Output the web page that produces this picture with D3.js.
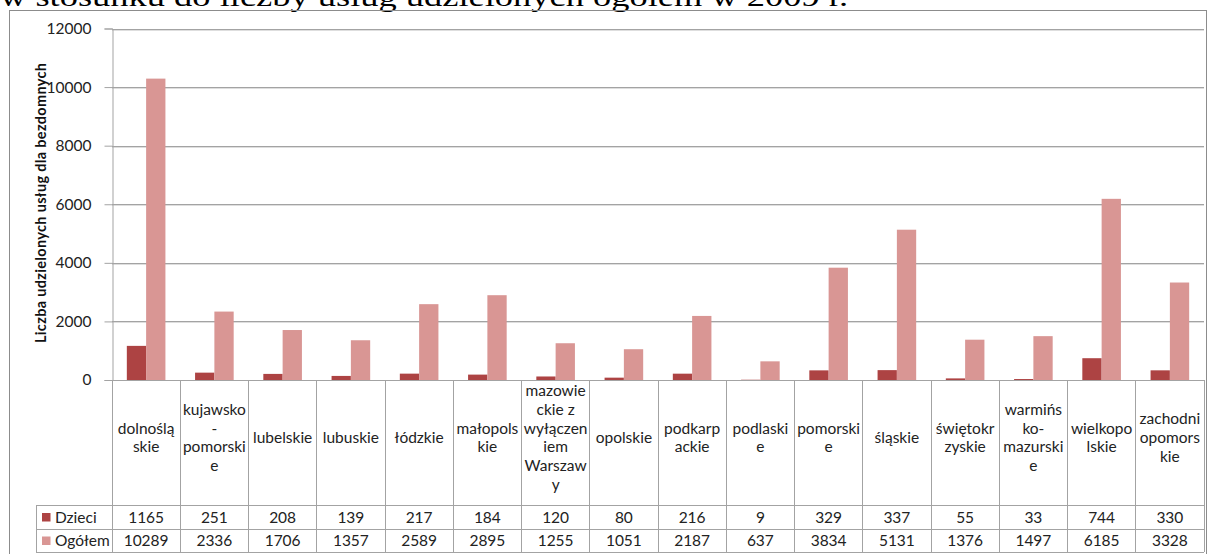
<!DOCTYPE html>
<html>
<head>
<meta charset="utf-8">
<script src="https://cdn.jsdelivr.net/npm/d3@7"></script>
<style>
  body { margin: 0; background: #fff; }
  svg { display: block; }
</style>
</head>
<body>
<svg width="1209" height="554"></svg>
<script>
// data
const categories = ['dolnośląskie', 'kujawsko-pomorskie', 'lubelskie', 'lubuskie', 'łódzkie',
  'małopolskie', 'mazowieckie z wyłączeniem Warszawy', 'opolskie', 'podkarpackie', 'podlaskie',
  'pomorskie', 'śląskie', 'świętokrzyskie', 'warmińsko-mazurskie', 'wielkopolskie', 'zachodniopomorskie'];
// wrapped the way Excel wrapped them in the table
const labelLines = [['dolnoślą', 'skie'], ['kujawsko', '-', 'pomorski', 'e'], ['lubelskie'], ['lubuskie'],
  ['łódzkie'], ['małopols', 'kie'], ['mazowie', 'ckie z', 'wyłączen', 'iem', 'Warszaw', 'y'], ['opolskie'],
  ['podkarp', 'ackie'], ['podlaski', 'e'], ['pomorski', 'e'], ['śląskie'], ['świętokr', 'zyskie'],
  ['warmińs', 'ko-', 'mazurski', 'e'], ['wielkopo', 'lskie'], ['zachodni', 'opomors', 'kie']];
const seriesNames = ['Dzieci', 'Ogółem'];
const dzieci = [1165, 251, 208, 139, 217, 184, 120, 80, 216, 9, 329, 337, 55, 33, 744, 330];
const ogolem = [10289, 2336, 1706, 1357, 2589, 2895, 1255, 1051, 2187, 637, 3834, 5131, 1376, 1497, 6185, 3328];
const yTicks = [0, 2000, 4000, 6000, 8000, 10000, 12000];
const yTitle = 'Liczba udzielonych usług dla bezdomnych';
const heading = 'w stosunku do liczby usług udzielonych ogółem w 2009 r.';

const colors = { Dzieci: '#ad4343', 'Ogółem': '#d99694' };
const font = 'Lato, "Noto Sans", sans-serif';
const fs = 15.5;
const lineCol = '#a3a3a3';

const svg = d3.select('svg');
const plotLeft = 112, plotRight = 1204, plotTop = 28.5, zero = 380;
const labelBottom = 505, row1 = 529, row2 = 552, legendLeft = 36;

// cut-off heading above the chart frame (the reference crops it the same way)
svg.append('text')
  .attr('x', 0).attr('y', 6)
  .attr('font-family', '"Liberation Serif", serif')
  .attr('font-size', 27)
  .attr('textLength', 848)
  .attr('lengthAdjust', 'spacingAndGlyphs')
  .text(heading);

// frame
svg.append('rect')
  .attr('x', 9.5).attr('y', 10.5)
  .attr('width', 1197).attr('height', 560)
  .attr('fill', 'none').attr('stroke', '#8c8c8c');

const x = d3.scaleBand().domain(categories).range([plotLeft, plotRight]);
const x1 = d3.scaleBand().domain(seriesNames)
  .range([(x.bandwidth() - 38.6) / 2, (x.bandwidth() + 38.6) / 2]);
const y = d3.scaleLinear().domain([0, 12000]).range([zero, plotTop]);

// gridlines with soft shadow
const grid = svg.append('g');
yTicks.filter(d => d > 0).forEach(t => {
  grid.append('line')
    .attr('x1', plotLeft).attr('x2', plotRight)
    .attr('y1', Math.round(y(t)) + 1.5).attr('y2', Math.round(y(t)) + 1.5)
    .attr('stroke', '#dedede');
  grid.append('line')
    .attr('x1', plotLeft).attr('x2', plotRight)
    .attr('y1', Math.round(y(t)) + 0.5).attr('y2', Math.round(y(t)) + 0.5)
    .attr('stroke', lineCol);
});

// y axis
const yAxis = svg.append('g')
  .attr('transform', `translate(${plotLeft + 0.5},0)`)
  .call(d3.axisLeft(y).tickValues(yTicks).tickSize(8).tickPadding(13).tickFormat(d3.format('d')));
yAxis.select('.domain').attr('stroke', lineCol);
yAxis.selectAll('.tick line').attr('stroke', lineCol);
yAxis.selectAll('.tick text')
  .attr('font-family', font).attr('font-size', fs).attr('fill', '#222');

svg.append('text')
  .attr('transform', `translate(46,${(63 + 343) / 2}) rotate(-90)`)
  .attr('text-anchor', 'middle')
  .attr('font-family', font).attr('font-size', 14.5).attr('font-weight', 'bold')
  .attr('fill', '#111')
  .attr('textLength', 280)
  .text(yTitle);

// bars
const rows = categories.map((c, i) => ({ cat: c, Dzieci: dzieci[i], 'Ogółem': ogolem[i] }));
svg.append('g').selectAll('g')
  .data(rows)
  .join('g')
  .attr('transform', d => `translate(${x(d.cat)},0)`)
  .selectAll('rect')
  .data(d => seriesNames.map(s => ({ s, v: d[s] })))
  .join('rect')
  .attr('x', d => x1(d.s))
  .attr('width', x1.bandwidth())
  .attr('y', d => y(d.v))
  .attr('height', d => zero - y(d.v))
  .attr('fill', d => colors[d.s]);

// data table
const table = svg.append('g').attr('stroke', lineCol).attr('shape-rendering', 'crispEdges');
table.append('line').attr('x1', plotLeft).attr('x2', plotRight).attr('y1', zero).attr('y2', zero);
[labelBottom, row1, row2].forEach(r => {
  table.append('line').attr('x1', legendLeft).attr('x2', plotRight).attr('y1', r).attr('y2', r);
});
categories.forEach(c => {
  table.append('line').attr('x1', x(c)).attr('x2', x(c)).attr('y1', zero).attr('y2', row2);
});
table.append('line').attr('x1', plotRight).attr('x2', plotRight).attr('y1', zero).attr('y2', row2);
table.append('line').attr('x1', legendLeft).attr('x2', legendLeft).attr('y1', labelBottom).attr('y2', row2);

const labels = svg.append('g')
  .attr('font-family', font).attr('font-size', fs).attr('fill', '#222')
  .attr('text-anchor', 'middle');
const lh = 18.8, labelMid = 437.5;
categories.forEach((c, i) => {
  const lines = labelLines[i];
  const t = labels.append('text')
    .attr('x', x(c) + x.bandwidth() / 2)
    .attr('y', labelMid - (lines.length - 1) * lh / 2 + 5.5);
  lines.forEach((l, j) => {
    t.append('tspan').attr('x', x(c) + x.bandwidth() / 2).attr('dy', j === 0 ? 0 : lh).text(l);
  });
});

const series = [{ name: 'Dzieci', vals: dzieci, base: 522.5 }, { name: 'Ogółem', vals: ogolem, base: 546 }];
series.forEach(s => {
  categories.forEach((c, i) => {
    labels.append('text')
      .attr('x', x(c) + x.bandwidth() / 2)
      .attr('y', s.base)
      .text(s.vals[i]);
  });
  svg.append('rect')
    .attr('x', 42).attr('y', s.base - 9.5)
    .attr('width', 8.5).attr('height', 8.5)
    .attr('fill', colors[s.name]);
  svg.append('text')
    .attr('x', 55).attr('y', s.base)
    .attr('font-family', font).attr('font-size', fs).attr('fill', '#222')
    .text(s.name);
});
</script>
</body>
</html>
